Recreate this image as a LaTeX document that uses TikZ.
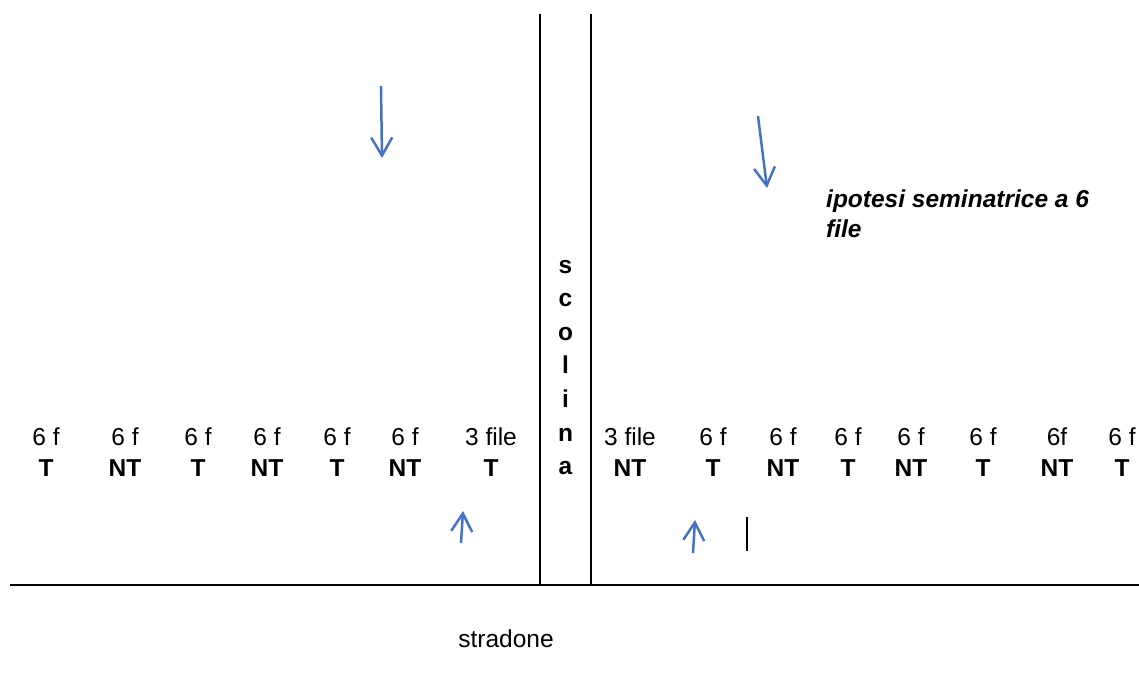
\documentclass[tikz,border=0pt]{standalone}
\usepackage{fontspec}
\setmainfont{Liberation Sans}
\usetikzlibrary{arrows.meta}
\definecolor{arrblue}{RGB}{68,114,196}
\begin{document}
\begin{tikzpicture}[x=1pt,y=-1pt,
  lbl/.style={inner sep=0pt,anchor=base,font=\fontsize{24.5}{31}\selectfont},
  blbl/.style={lbl,font=\fontsize{24.5}{31}\selectfont\bfseries},
  wall/.style={line width=2pt,black},
  barrow/.style={arrblue,line width=2.5pt,-{Straight Barb[length=18pt,width=21pt,line width=2.5pt]}}]
\useasboundingbox (0,0) rectangle (1139,684);
% walls
\draw[wall] (540,14) -- (540,585);
\draw[wall] (591,14) -- (591,585);
\draw[wall] (10,585) -- (1139,585);
\draw[wall] (747,517) -- (747,551);
% left columns
\foreach \x/\a/\b [count=\i] in {46/6 f/T,125/6 f/NT,198/6 f/T,267/6 f/NT,337/6 f/T,405/6 f/NT,491/3 file/T}{
  \node[lbl] (lt\i) at (\x,445) {\a};
  \node[blbl] (lb\i) at (\x,476) {\b};
}
% right columns
\foreach \x/\a/\b [count=\i] in {630/3 file/NT,713/6 f/T,783/6 f/NT,848/6 f/T,911/6 f/NT,983/6 f/T,1057/6f/NT,1122/6 f/T}{
  \node[lbl] (rt\i) at (\x,445) {\a};
  \node[blbl] (rb\i) at (\x,476) {\b};
}
% scolina
\foreach \c [count=\i] in {s,c,o,l,i,n,a}{
  \node[blbl] (sc\i) at (565.5,{273+(\i-1)*33.6}) {\c};
}
% note
\node[inner sep=0pt,anchor=north west,align=left,font=\fontsize{24.5}{30}\selectfont\bfseries\itshape] (note) at (826,190) {ipotesi seminatrice a 6\\file};
\node[lbl] (strad) at (506,647) {stradone};
% arrows
\coordinate (a1s) at (381,86); \coordinate (a1e) at (382,158);
\coordinate (a2s) at (758,116); \coordinate (a2e) at (767,188);
\coordinate (a3s) at (461,543); \coordinate (a3e) at (463,511);
\coordinate (a4s) at (693,553); \coordinate (a4e) at (695,520);
\draw[barrow] (a1s) -- (a1e);
\draw[barrow] (a2s) -- (a2e);
\draw[barrow] (a3s) -- (a3e);
\draw[barrow] (a4s) -- (a4e);
\end{tikzpicture}
\end{document}
